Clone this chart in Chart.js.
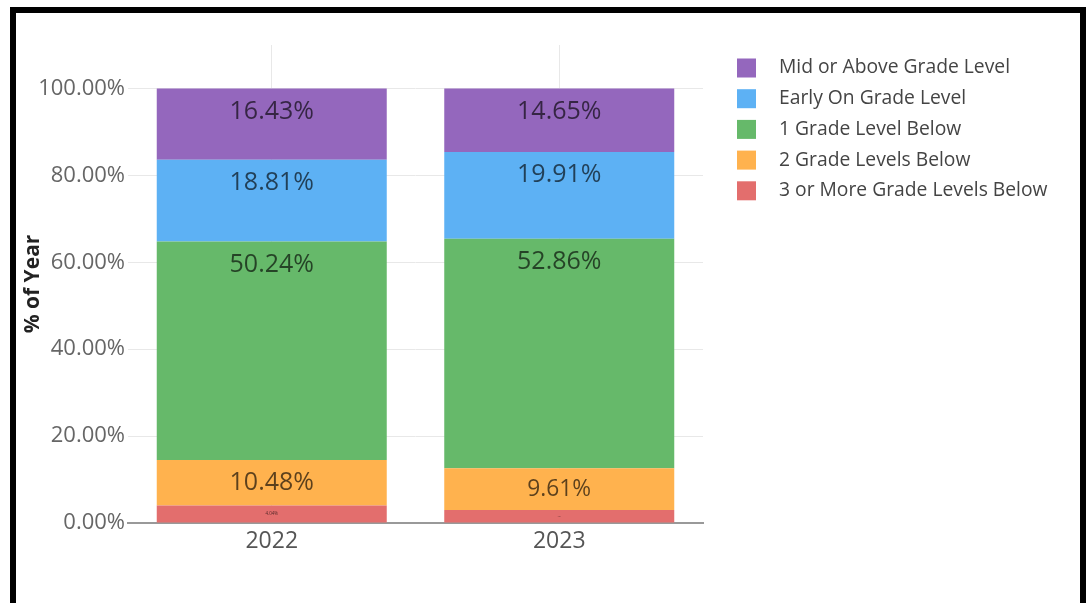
<!DOCTYPE html>
<html><head><meta charset="utf-8">
<script src="https://cdn.jsdelivr.net/npm/chart.js@4.4.1/dist/chart.umd.min.js"></script>
<style>
html,body{margin:0;padding:0;background:#fff;width:1087px;height:603px;overflow:hidden}
#wrap{position:absolute;left:0;top:0;width:1087px;height:603px}
#frame{position:absolute;left:10px;top:7px;width:1064px;height:620px;border:6px solid #000;border-bottom:none;pointer-events:none}
</style></head><body>
<div id="wrap"><canvas id="c" width="1087" height="603"></canvas></div>
<div id="frame"></div>
<script>
const categories = ['2022', '2023'];
const seriesNames = ['3 or More Grade Levels Below', '2 Grade Levels Below', '1 Grade Level Below', 'Early On Grade Level', 'Mid or Above Grade Level'];
const threeBelow = [4.04, 2.97];
const twoBelow = [10.48, 9.61];
const oneBelow = [50.24, 52.86];
const earlyOn = [18.81, 19.91];
const midOrAbove = [16.43, 14.65];
const yTicks = [0, 20, 40, 60, 80, 100];
const colors = ['#E36E6D', '#FFB24E', '#66B96A', '#5DB1F4', '#9467BD'];

const seriesValues = [threeBelow, twoBelow, oneBelow, earlyOn, midOrAbove];
const FONT = "'Open Sans', sans-serif";

const labelPlugin = {
  id: 'segLabels',
  afterDatasetsDraw(chart) {
    const ctx = chart.ctx;
    ctx.save();
    ctx.textAlign = 'center';
    ctx.textBaseline = 'middle';
    ctx.fillStyle = 'rgba(0,0,0,0.64)';
    chart.data.datasets.forEach((ds, i) => {
      const meta = chart.getDatasetMeta(i);
      meta.data.forEach((el, j) => {
        const top = Math.min(el.y, el.base);
        const h = Math.abs(el.base - el.y);
        const fs = Math.min(25, Math.max(0, (h - 11) * 0.74));
        if (fs < 0.6) return;
        ctx.font = fs + 'px ' + FONT;
        ctx.fillText(ds.data[j].toFixed(2) + '%', el.x, top + Math.min(23, h / 2));
      });
    });
    ctx.restore();
  }
};

const legendPlugin = {
  id: 'sideLegend',
  afterDraw(chart) {
    const ctx = chart.ctx;
    ctx.save();
    ctx.textBaseline = 'middle';
    ctx.textAlign = 'left';
    ctx.font = '19.3px ' + FONT;
    const ds = chart.data.datasets.slice().reverse();
    ds.forEach((d, k) => {
      const cy = 68 + k * 30.7;
      ctx.fillStyle = d.backgroundColor;
      ctx.fillRect(737, cy - 9.5, 19, 19);
      ctx.fillStyle = '#444';
      ctx.fillText(d.label, 779, cy);
    });
    ctx.restore();
  }
};

new Chart(document.getElementById('c'), {
  type: 'bar',
  data: {
    labels: categories,
    datasets: seriesNames.map((n, i) => ({
      label: n,
      data: seriesValues[i],
      backgroundColor: colors[i],
      borderWidth: 0,
      barPercentage: 0.8,
      categoryPercentage: 1.0
    }))
  },
  options: {
    responsive: false,
    animation: false,
    devicePixelRatio: 1,
    layout: { padding: { left: 0, top: 45, right: 384, bottom: 0 } },
    plugins: { legend: { display: false }, tooltip: { enabled: false } },
    scales: {
      x: {
        stacked: true,
        afterFit(s) { s.height = 80; },
        grid: { offset: false, color: '#e8e8e8', drawTicks: false },
        border: { display: true, color: '#999', width: 2 },
        ticks: { font: { family: FONT, size: 23 }, color: '#555', padding: 5 },
      },
      y: {
        stacked: true,
        min: 0,
        max: 110,
        afterFit(s) { s.width = 128; },
        afterBuildTicks(s) { s.ticks = yTicks.map(v => ({ value: v })); },
        grid: { color: '#e8e8e8', drawTicks: false },
        border: { display: false },
        ticks: { font: { family: FONT, size: 22 }, color: '#666', padding: 3,
          callback: v => Number(v).toFixed(2) + '%' },
        title: { display: true, text: '% of Year', font: { family: FONT, size: 21, weight: 'bold' }, color: '#222', padding: { top: 20, bottom: 0 } }
      }
    }
  },
  plugins: [labelPlugin, legendPlugin]
});
</script>
</body></html>
